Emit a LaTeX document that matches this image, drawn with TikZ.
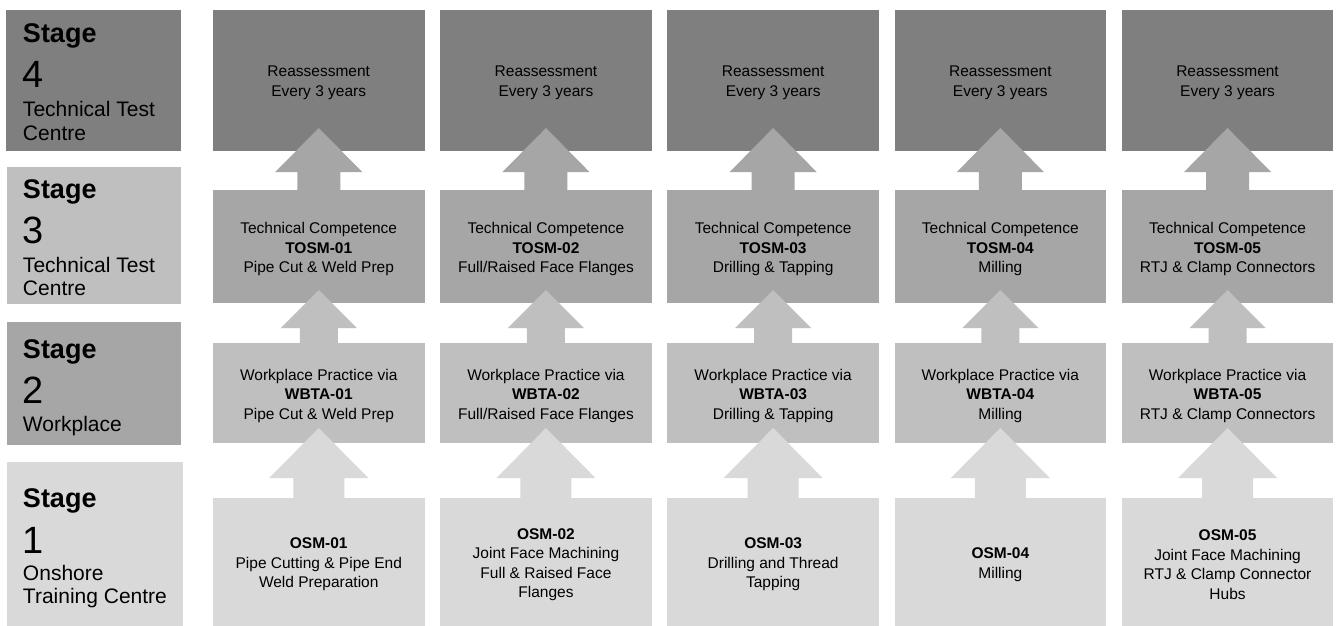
\documentclass[tikz,border=0pt]{standalone}
\usepackage{fontspec}
\setmainfont{Liberation Sans}
\definecolor{gA}{HTML}{7F7F7F}
\definecolor{gB}{HTML}{A6A6A6}
\definecolor{gC}{HTML}{BFBFBF}
\definecolor{gD}{HTML}{D9D9D9}
\newcommand\subA[1]{\ifcase#1 Pipe Cut \& Weld Prep\or Full/Raised Face Flanges\or Drilling \& Tapping\or Milling\or RTJ \& Clamp Connectors\fi}
\newcommand\osmT[1]{\ifcase#1 Pipe Cutting \& Pipe End\\Weld Preparation\or Joint Face Machining\\Full \& Raised Face\\Flanges\or Drilling and Thread\\Tapping\or Milling\or Joint Face Machining\\RTJ \& Clamp Connector\\Hubs\fi}
\begin{document}
\begin{tikzpicture}[x=1pt,y=-1pt,
  box/.style={rectangle, inner sep=0pt, outer sep=0pt, anchor=north west},
  ctext/.style={inner sep=0pt, align=center, text=black, font=\fontsize{15.5}{19.5}\selectfont},
  stg/.style={anchor=base west, inner sep=0pt, outer sep=0pt, text=black},
  stgT/.style={stg, font=\fontsize{27}{27}\selectfont\bfseries},
  stgN/.style={stg, font=\fontsize{38}{38}\selectfont},
  stgS/.style={stg, font=\fontsize{21}{23}\selectfont}]
\useasboundingbox (0,0) rectangle (1336,626);
\fill[white] (0,0) rectangle (1336,626);
% stage boxes
\node[box, fill=gA, minimum width=175pt, minimum height=141pt] (s4) at (6,10) {};
\node[box, fill=gC, minimum width=174pt, minimum height=137pt] (s3) at (7,167) {};
\node[box, fill=gB, minimum width=174pt, minimum height=123pt] (s2) at (7,322) {};
\node[box, fill=gD, minimum width=176pt, minimum height=164pt] (s1) at (7,462) {};
% stage texts
\node[stgT] (s4a) at (23,43) {Stage};
\node[stgN] (s4b) at (23,88) {4};
\node[stgS] (s4c) at (23,117) {Technical Test};
\node[stgS] (s4d) at (23,140) {Centre};
\node[stgT] (s3a) at (23,198) {Stage};
\node[stgN] (s3b) at (23,243) {3};
\node[stgS] (s3c) at (23,272) {Technical Test};
\node[stgS] (s3d) at (23,295) {Centre};
\node[stgT] (s2a) at (23,358) {Stage};
\node[stgN] (s2b) at (23,403) {2};
\node[stgS] (s2c) at (23,431) {Workplace};
\node[stgT] (s1a) at (23,507) {Stage};
\node[stgN] (s1b) at (23,553) {1};
\node[stgS] (s1c) at (23,580) {Onshore};
\node[stgS] (s1d) at (23,603) {Training Centre};
% columns
\foreach \i in {0,...,4}{
  \pgfmathsetmacro\xo{213+227.2*\i}
  \pgfmathsetmacro\cx{\xo+105.75}
  \pgfmathtruncatemacro\n{\i+1}
  \node[box, fill=gA, minimum width=211.5pt, minimum height=141pt] (r\i) at (\xo,10) {};
  \node[box, fill=gB, minimum width=211.5pt, minimum height=113pt] (t\i) at (\xo,190) {};
  \node[box, fill=gC, minimum width=211.5pt, minimum height=100pt] (w\i) at (\xo,343) {};
  \node[box, fill=gD, minimum width=211.5pt, minimum height=128pt] (o\i) at (\xo,498) {};
  % arrows
  \fill[gB] (\cx-21.5,190) -- (\cx-21.5,172) -- (\cx-43.5,172) -- (\cx,128) -- (\cx+43.5,172) -- (\cx+21.5,172) -- (\cx+21.5,190) -- cycle;
  \fill[gC] (\cx-19,343) -- (\cx-19,328) -- (\cx-38,328) -- (\cx,290) -- (\cx+38,328) -- (\cx+19,328) -- (\cx+19,343) -- cycle;
  \fill[gD] (\cx-25.5,498) -- (\cx-25.5,478) -- (\cx-49.5,478) -- (\cx,428) -- (\cx+49.5,478) -- (\cx+25.5,478) -- (\cx+25.5,498) -- cycle;
  % texts
  \node[ctext] (rt\i) at ([yshift=-2.5pt]r\i.center) {Reassessment\\Every 3 years};
  \node[ctext] (tt\i) at ([yshift=-2.5pt]t\i.center) {Technical Competence\\\textbf{TOSM-0\n}\\\subA{\i}};
  \node[ctext] (wt\i) at ([yshift=-2.5pt]w\i.center) {Workplace Practice via\\\textbf{WBTA-0\n}\\\subA{\i}};
  \node[ctext] (ot\i) at ([yshift=-2.5pt]o\i.center) {\textbf{OSM-0\n}\\\osmT{\i}};
}
\end{tikzpicture}
\end{document}
